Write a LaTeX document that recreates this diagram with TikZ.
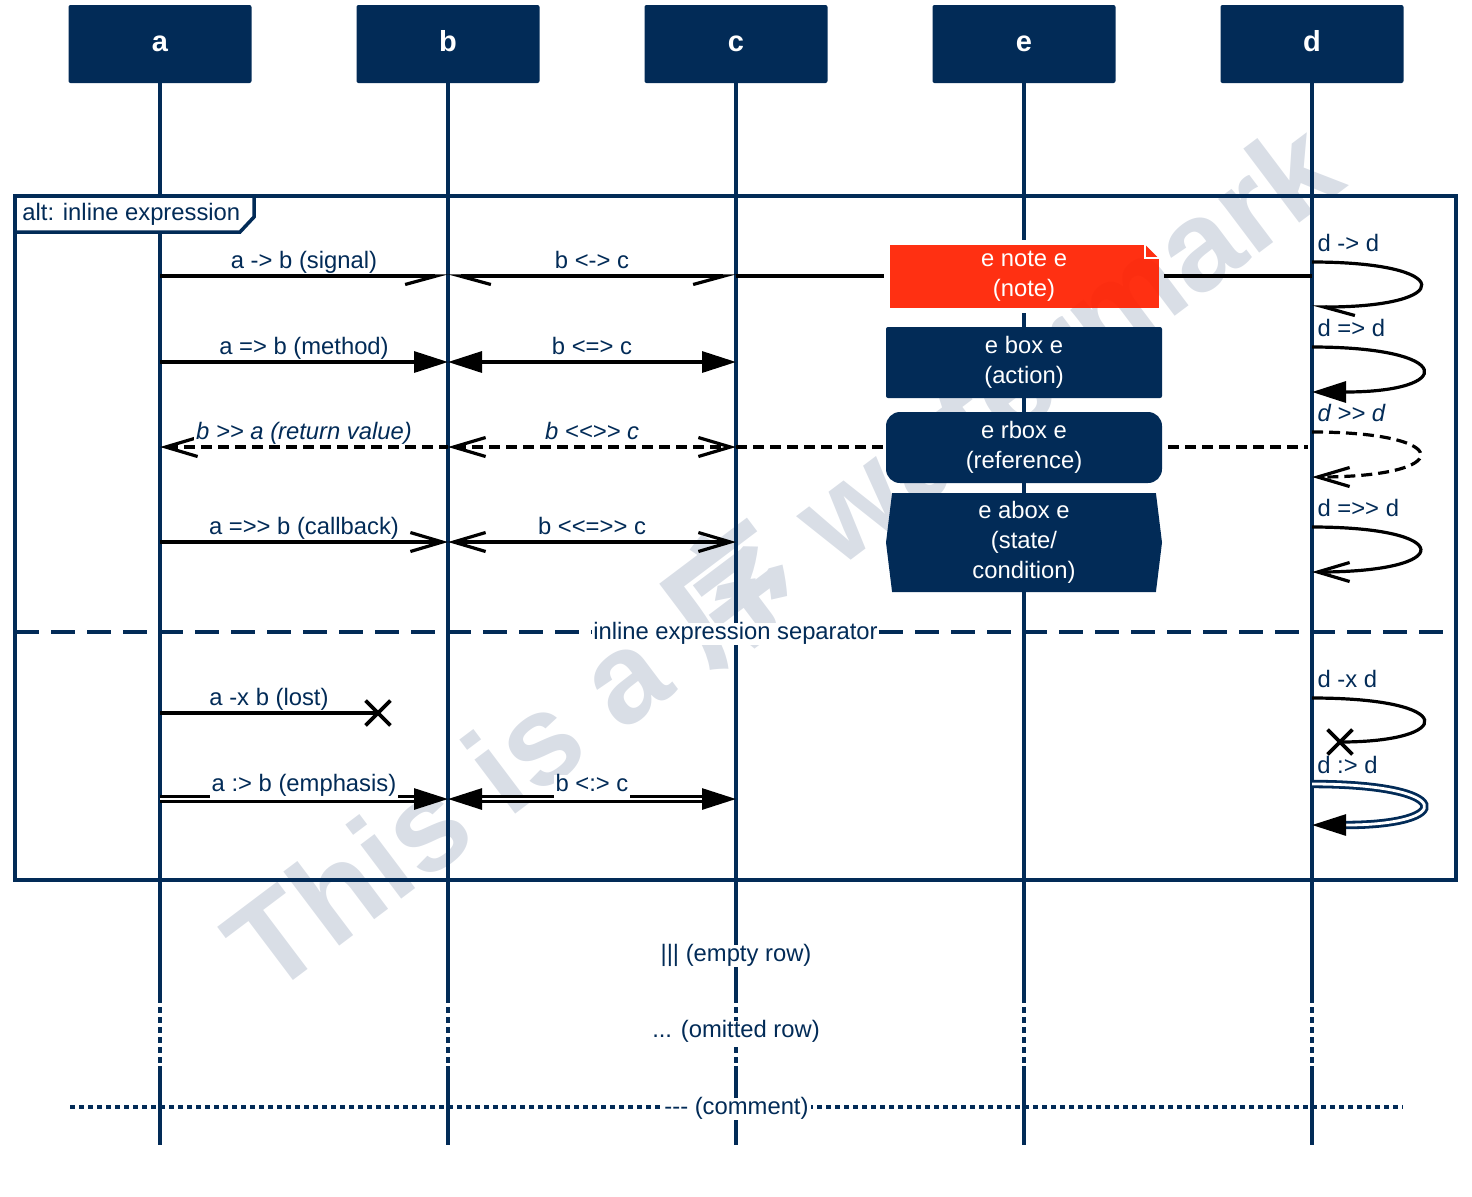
\documentclass[tikz,border=0pt]{standalone}
\usepackage{fontspec}
\setmainfont{Liberation Sans}[Ligatures=TeXOff]
\newfontfamily\cjkfont{Noto Sans CJK SC}
\usetikzlibrary{arrows.meta,calc,shapes.misc,shapes.symbols}
\definecolor{navy}{HTML}{022B57}
\definecolor{notered}{HTML}{FF2000}
\definecolor{wmgray}{HTML}{D9DEE6}

\begin{document}
\begin{tikzpicture}[x=0.5pt,y=-0.5pt,
  sigR/.tip={Straight Barb[harpoon,swap,length=15.5pt,width=8.5pt]},
  sigL/.tip={Straight Barb[harpoon,length=15.5pt,width=8.5pt]},
  opn/.tip={Straight Barb[length=16pt,width=9.5pt]},
  tri/.tip={Triangle[length=17pt,width=10.5pt]}]
 \tikzstyle{actor}=[rectangle,rounded corners=1pt,fill=navy,text=white,minimum width=91.5pt,minimum height=39pt,text height=0.72em,text depth=0pt,font=\fontsize{14.5}{17}\selectfont\bfseries]
 \tikzstyle{lifeline}=[navy,line width=1.75pt]
 \tikzstyle{frame}=[navy,line width=1.75pt]
 \tikzstyle{msg}=[black,line width=1.6pt]
 \tikzstyle{dashmsg}=[msg,dash pattern=on 5.5pt off 3pt]
 \tikzstyle{emph}=[msg,line width=1.4pt,double,double distance=1.4pt]
 \tikzstyle{lbl}=[font=\fontsize{11.9}{15}\selectfont,text=navy,fill=white,inner sep=1pt,text height=0.72em,text depth=0.21em]
 \tikzstyle{ilbl}=[lbl,font=\fontsize{11.9}{15}\selectfont\itshape]
 \tikzstyle{slbl}=[lbl,fill=none,anchor=south west,inner sep=2pt,yshift=0.5pt]
 \tikzstyle{ebox}=[rectangle,fill=navy,text=white,minimum width=138pt,align=center,font=\fontsize{11.9}{15}\selectfont]
 \tikzstyle{lostx}=[cross out,draw=black,line width=1.9pt,minimum size=10.5pt,inner sep=0pt]
 \useasboundingbox (0,0) rectangle (1472,1196);

 % watermark behind everything
 \node[font=\fontsize{64}{68}\selectfont\bfseries,text=wmgray,rotate=37] (wm) at (780,553) {This is a {\cjkfont 序} watermark};

 % participants
 \node[actor] (a) at (160,44) {a};
 \node[actor] (b) at (448,44) {b};
 \node[actor] (c) at (736,44) {c};
 \node[actor] (e) at (1024,44) {e};
 \node[actor] (d) at (1312,44) {d};

 \coordinate (omitA) at (0,997);
 \coordinate (omitB) at (0,1066);
 \coordinate (lend) at (0,1145);
 \coordinate (noteTop) at (0,240);
 \coordinate (noteBot) at (0,313);
 \foreach \n in {a,b,c,e,d} {
  \draw[lifeline,dash pattern=on 3pt off 2pt] (\n |- omitA) -- (\n |- omitB);
  \draw[lifeline] (\n |- omitB) -- (\n |- lend);
 }
 \foreach \n in {a,b,c,d}
  \draw[lifeline] (\n) -- (\n |- omitA);
 % lifeline e leaves a gap round the note
 \draw[lifeline] (e) -- (e |- noteTop);
 \draw[lifeline] (e |- noteBot) -- (e |- omitA);

 % alt frame
 \draw[frame] (15,196) rectangle (1456,880);
 \draw[frame,fill=white] (15,196) -- (15,232) -- (240,232) -- (254,217) -- (254,196) -- cycle;
 \node[lbl,fill=none,anchor=west] (alttag) at (20,215) {alt: inline expression};
 \coordinate (sepL) at (15,632);
 \coordinate (sepR) at (1456,632);
 \draw[frame,dash pattern=on 12pt off 6pt] (sepL) -- node[lbl,inner xsep=0.5pt,yshift=-1pt] (seplbl) {inline expression separator} (sepR);

 % boxes on e
 \node[ebox,fill=notered,fill opacity=0.93,text opacity=1,minimum width=134.5pt,minimum height=31.5pt] (enote) at (1024,276.5) {e note e\\(note)};
 \fill[white] ($(enote.north east)+(-14,0)$) -- (enote.north east) -- ($(enote.north east)+(0,14)$) -- cycle;
 \draw[white,line width=0.8pt] ($(enote.north east)+(-14,0)$) -- ++(0,14) -- ++(14,0);
 \node[ebox,rounded corners=1pt,minimum height=35.5pt] (ebx) at (1024,362.5) {e box e\\(action)};
 \node[ebox,rounded corners=7pt,minimum height=35.5pt] (erbx) at (1024,447.5) {e rbox e\\(reference)};
 \node[ebox,signal,signal to=west and east,signal pointer angle=166,minimum height=49.5pt] (eabx) at (1024,542.5) {e abox e\\(state/\\condition)};

 % rows
 \coordinate (r1) at (0,276);
 \coordinate (r2) at (0,362);
 \coordinate (r3) at (0,447);
 \coordinate (r4) at (0,542);
 \coordinate (r5) at (0,713);
 \coordinate (r6) at (0,799);

 \draw[msg,-sigR] (a |- r1) -- node[lbl,above] (l1a) {a -> b (signal)} (b |- r1);
 \draw[msg,sigL-sigR] (b |- r1) -- node[lbl,above] (l1b) {b <-> c} (c |- r1);
 \draw[msg,shorten >=2.5pt] (c |- r1) -- (enote.west |- r1);
 \draw[msg,shorten <=2.5pt] (enote.east |- r1) -- (d |- r1);

 \draw[msg,-tri] (a |- r2) -- node[lbl,above] (l2a) {a => b (method)} (b |- r2);
 \draw[msg,tri-tri] (b |- r2) -- node[lbl,above] (l2b) {b <=> c} (c |- r2);

 \draw[dashmsg,opn-] (a |- r3) -- node[ilbl,above] (l3a) {b >> a (return value)} (b |- r3);
 \draw[dashmsg,opn-opn] (b |- r3) -- node[ilbl,above] (l3b) {b <<>> c} (c |- r3);
 \draw[dashmsg] (c |- r3) -- (erbx.west |- r3);
 \draw[dashmsg,shorten <=3pt,shorten >=2pt] (erbx.east |- r3) -- (d |- r3);

 \draw[msg,-opn] (a |- r4) -- node[lbl,above] (l4a) {a =>> b (callback)} (b |- r4);
 \draw[msg,opn-opn] (b |- r4) -- node[lbl,above] (l4b) {b <<=>> c} (c |- r4);

 \node[lostx] (xa) at (378,713) {};
 \draw[msg] (a |- r5) -- node[lbl,above] (l5a) {a -x b (lost)} (xa.center);

 \draw[emph,-tri] (a |- r6) -- node[lbl,above] (l6a) {a :> b (emphasis)} (b |- r6);
 \draw[emph,tri-tri] (b |- r6) -- node[lbl,above] (l6b) {b <:> c} (c |- r6);

 % self messages on d
 \coordinate (s1) at (0,262); \coordinate (s1e) at (0,307);
 \coordinate (s2) at (0,347); \coordinate (s2e) at (0,392);
 \coordinate (s3) at (0,432); \coordinate (s3e) at (0,477);
 \coordinate (s4) at (0,527); \coordinate (s4e) at (0,572);
 \coordinate (s5) at (0,698);
 \coordinate (s6) at (0,784); \coordinate (s6e) at (0,825);
 \draw[msg,-sigL] (d |- s1) node[slbl] (ls1) {d -> d} .. controls +(144,0) and +(144,0) .. (d |- s1e);
 \draw[msg,-tri] (d |- s2) node[slbl] (ls2) {d => d} .. controls +(144,0) and +(144,0) .. (d |- s2e);
 \draw[dashmsg,-opn] (d |- s3) node[slbl,font=\fontsize{11.9}{15}\selectfont\itshape] (ls3) {d >> d} .. controls +(144,0) and +(144,0) .. (d |- s3e);
 \draw[msg,-opn] (d |- s4) node[slbl] (ls4) {d =>> d} .. controls +(144,0) and +(144,0) .. (d |- s4e);
 \node[lostx] (xd) at (1340,742) {};
 \draw[msg] (d |- s5) node[slbl] (ls5) {d -x d} .. controls +(148,0) and +(115,0) .. (xd.center);
 \draw[emph,navy,-{Triangle[length=17pt,width=10.5pt,black]}] (d |- s6) node[slbl] (ls6) {d :> d} .. controls +(144,0) and +(144,0) .. (d |- s6e);

 % rows below the frame
 \node[lbl,inner xsep=2pt] (emptyrow) at (736,956) {||| (empty row)};
 \node[lbl,inner xsep=2pt] (omitrow) at (736,1032) {... (omitted row)};
 \coordinate (cmtL) at (70,1107);
 \coordinate (cmtR) at (1403,1107);
 \draw[navy,line width=1.9pt,dash pattern=on 2.5pt off 2pt] (cmtL) -- node[lbl,inner xsep=1pt,yshift=-1pt] (cmt) {{-}{-}{-} (comment)} (cmtR);
\end{tikzpicture}
\end{document}
